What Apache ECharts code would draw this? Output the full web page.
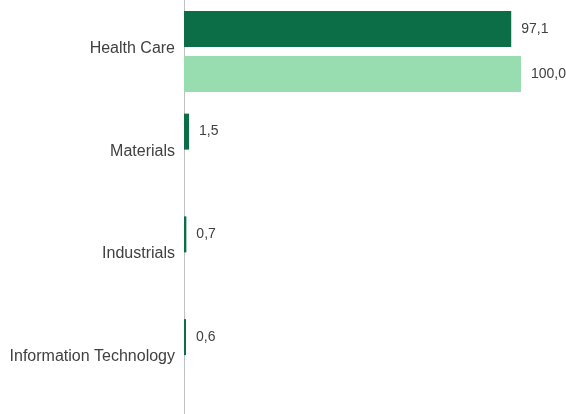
<!DOCTYPE html>
<html>
<head>
<meta charset="utf-8">
<script src="https://cdn.jsdelivr.net/npm/echarts@6/dist/echarts.min.js"></script>
<style>html,body{margin:0;padding:0;background:#fff}#c{width:566px;height:414px}</style>
</head>
<body>
<div id="c"></div>
<script>
var categories = ['Health Care', 'Materials', 'Industrials', 'Information Technology'];
var seriesA = [97.1, 1.5, 0.7, 0.6];
var seriesB = [100.0, null, null, null];

var chart = echarts.init(document.getElementById('c'), null, {renderer: 'canvas'});
function fmt(p) { return p.value == null ? '' : p.value.toFixed(1).replace('.', ','); }
var FONT = 'Liberation Sans, Arial, sans-serif';
chart.setOption({
  animation: false,
  grid: [
    {left: 184, top: -5, width: 337, height: 416, containLabel: false},
    {left: 184, top: 0, width: 337, height: 414, containLabel: false}
  ],
  xAxis: [
    {
      type: 'value', min: 0, max: 100, gridIndex: 0,
      axisLine: {show: false}, axisTick: {show: false}, axisLabel: {show: false}, splitLine: {show: false}
    },
    {
      type: 'value', min: 0, max: 100, gridIndex: 1, show: false
    }
  ],
  yAxis: [
    {
      type: 'category', data: categories, inverse: true, gridIndex: 0,
      axisLine: {show: false},
      axisTick: {show: false},
      axisLabel: {margin: 9, color: '#404040', fontSize: 16, fontFamily: FONT, verticalAlign: 'bottom', lineHeight: 6}
    },
    {
      type: 'category', data: [], gridIndex: 1,
      axisLine: {show: true, lineStyle: {color: '#c0c0c0', width: 1}},
      axisTick: {show: false}, axisLabel: {show: false}, splitLine: {show: false}
    }
  ],
  series: [
    {
      type: 'bar', name: 'A', data: seriesA, barWidth: 36, barGap: '25%',
      itemStyle: {color: '#0B6E46'},
      label: {show: true, position: 'right', distance: 10, color: '#404040', fontSize: 14, fontFamily: FONT, formatter: fmt}
    },
    {
      type: 'bar', name: 'B', data: seriesB, barWidth: 36, barGap: '25%',
      itemStyle: {color: '#98DDAF'},
      label: {show: true, position: 'right', distance: 10, color: '#404040', fontSize: 14, fontFamily: FONT, formatter: fmt}
    }
  ]
});
</script>
</body>
</html>
